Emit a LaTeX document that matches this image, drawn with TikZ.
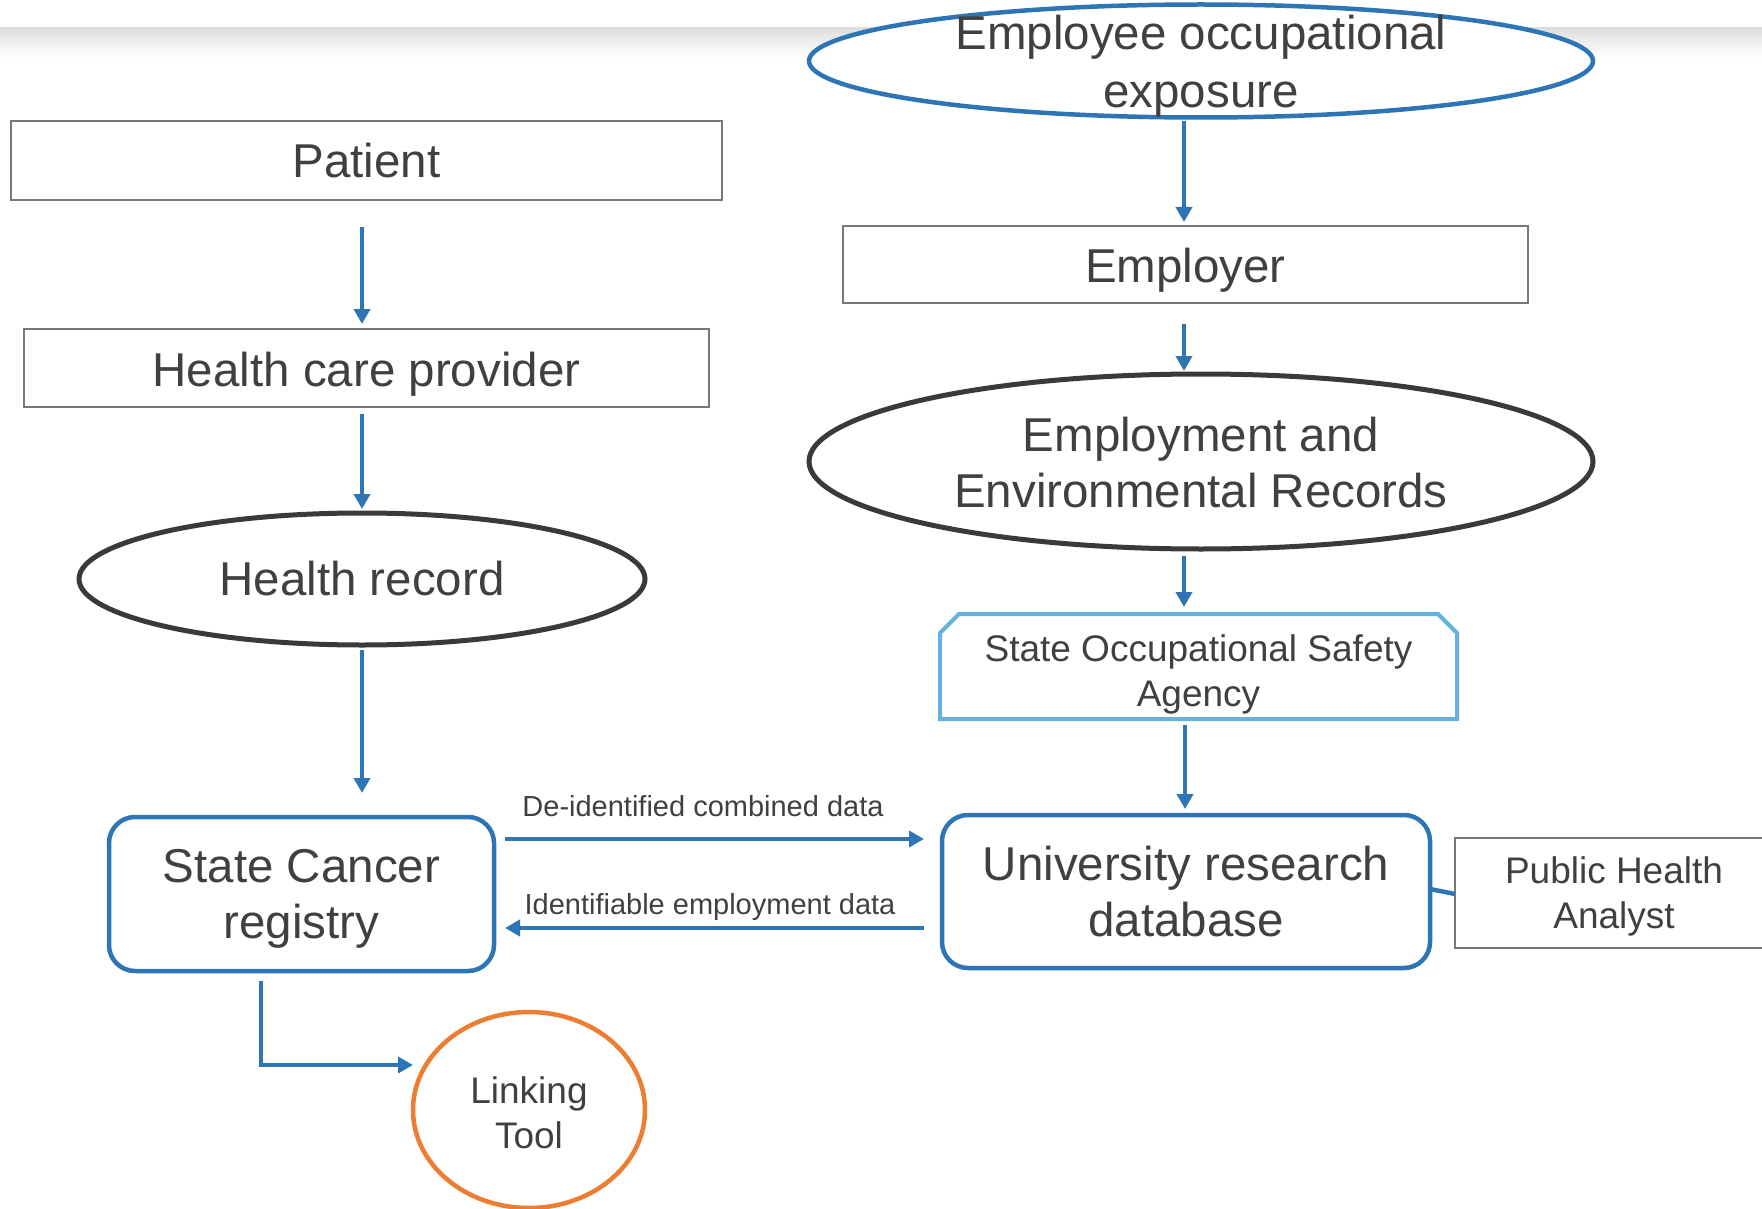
\documentclass[tikz,border=0pt]{standalone}
\usepackage{fontspec}
\setmainfont{Liberation Sans}
\usetikzlibrary{arrows.meta,shapes.geometric,calc}
\definecolor{pblue}{RGB}{46,117,182}
\definecolor{lblue}{RGB}{100,178,224}
\definecolor{orng}{RGB}{237,125,49}
\definecolor{dgray}{RGB}{58,58,58}
\definecolor{txt}{RGB}{64,64,64}
\definecolor{bgray}{RGB}{120,120,120}
\begin{document}
\begin{tikzpicture}[x=1pt,y=-1pt,
 every node/.style={text=txt, inner sep=0pt, outer sep=0pt},
 big/.style={font=\fontsize{47.5pt}{56pt}\selectfont, align=center},
 mid/.style={font=\fontsize{37pt}{45pt}\selectfont, align=center},
 lab/.style={font=\fontsize{29pt}{34pt}\selectfont},
 plainbox/.style={draw=bgray, line width=1.3pt, fill=white, rectangle},
 darkell/.style={draw=dgray, line width=5pt, fill=white, ellipse},
 blueell/.style={draw=pblue, line width=4.5pt, fill=white, ellipse},
 bluebox/.style={draw=pblue, line width=4.5pt, fill=white, rounded corners=26pt, rectangle},
 arr/.style={draw=pblue, line width=4.8pt, -{Triangle[length=15pt,width=16pt]}},
 link/.style={draw=pblue, line width=4.5pt}
]
\useasboundingbox (0,0) rectangle (1762,1209);
\clip (0,0) rectangle (1762,1209);
\fill[white] (0,0) rectangle (1762,1209);
\shade[top color=black!13, bottom color=white] (0,28) rectangle (1762,58);

% left column
\node[plainbox, minimum width=711pt, minimum height=79pt] (patient) at (366.5,160.5) {};
\node[big] (patientt) at (patient) {Patient};
\node[plainbox, minimum width=685pt, minimum height=78pt] (hcp) at (366.5,368) {};
\node[big] (hcpt) at ($(hcp)+(0,6)$) {Health care provider};
\node[darkell, minimum width=566pt, minimum height=132pt] (hrec) at (362,579) {};
\node[big] (hrect) at (hrec) {Health record};
\node[bluebox, minimum width=385pt, minimum height=154pt] (reg) at (301.5,894) {};
\node[big] (regt) at ($(reg)+(0,4.5)$) {State Cancer\\registry};
\node[draw=orng, line width=4.5pt, fill=white, ellipse, minimum width=232pt, minimum height=196pt] (link) at (529,1110) {};
\node[mid] (linkt) at (529,1113) {Linking\\Tool};

% right column
\node[blueell, minimum width=784pt, minimum height=113pt] (eoe) at (1201,61) {};
\node[font=\fontsize{47.5pt}{58pt}\selectfont, align=center] (eoet) at (1201,66.5) {Employee occupational\\exposure};
\node[plainbox, minimum width=685pt, minimum height=77pt] (emp) at (1185.5,264.5) {};
\node[big] (empt) at ($(emp)+(0,6)$) {Employer};
\node[darkell, minimum width=784pt, minimum height=175pt] (eer) at (1201,461.5) {};
\node[big] (eert) at (1201,463) {Employment and\\Environmental Records};
\draw[draw=lblue, line width=4pt, fill=white] (940,633) -- (959,614) -- (1438,614) -- (1457,633) -- (1457,719) -- (940,719) -- cycle;
\node[minimum width=517pt, minimum height=105pt] (sosa) at (1198.5,666.5) {};
\node[mid] (sosat) at ($(sosa)+(0,8)$) {State Occupational Safety\\Agency};
\node[bluebox, big, minimum width=488pt, minimum height=153pt] (urdb) at (1186,891.5) {University research\\database};
\node[plainbox, minimum width=320pt, minimum height=110pt] (pha) at (1615,893) {};
\node[mid] (phat) at ($(pha)+(-1,3.5)$) {Public Health\\Analyst};

% labels
\node[lab] (l1) at (703,806) {De-identified combined data};
\node[lab] (l2) at (710,907) {Identifiable employment data};

% connectors
\draw[arr] ([xshift=-4.5pt,yshift=-27pt]patient.south) -- ([xshift=-4.5pt,yshift=5pt]hcp.north);
\draw[arr] ([xshift=-4.5pt,yshift=-7pt]hcp.south) -- ([yshift=4pt]hrec.north);
\draw[arr] ([yshift=-5pt]hrec.south) -- ([xshift=60.5pt,yshift=24pt]reg.north);
\draw[arr] ([xshift=-40.5pt,yshift=-10pt]reg.south) |- ([yshift=45pt]link.west);
\draw[arr] ([xshift=11pt,yshift=55pt]reg.east) -- ([xshift=-18pt,yshift=52.5pt]urdb.west);
\draw[arr] ([xshift=-18pt,yshift=-36.5pt]urdb.west) -- ([xshift=11pt,yshift=-34pt]reg.east);
\draw[arr] ([xshift=-17pt,yshift=-4pt]eoe.south) -- ([xshift=-1.5pt,yshift=4pt]emp.north);
\draw[arr] ([xshift=-1.5pt,yshift=-21pt]emp.south) -- ([xshift=-17pt,yshift=3pt]eer.north);
\draw[arr] ([xshift=-17pt,yshift=-7pt]eer.south) -- ([xshift=-14.5pt,yshift=7pt]sosa.north);
\draw[arr] ([xshift=-13.5pt,yshift=-6pt]sosa.south) -- ([xshift=-1pt,yshift=6pt]urdb.north);
\draw[link] ([yshift=2.5pt]urdb.east) -- ([yshift=-1pt]pha.west);
\end{tikzpicture}
\end{document}
